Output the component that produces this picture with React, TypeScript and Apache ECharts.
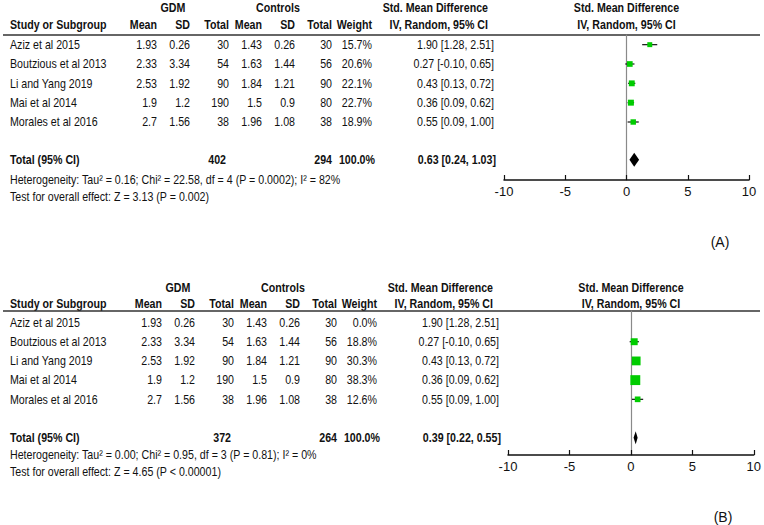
import React, { useEffect, useRef } from "react";
import * as echarts from "echarts";

// ---------- data ----------
const studies = ["Aziz et al 2015", "Boutzious et al 2013", "Li and Yang 2019", "Mai et al 2014", "Morales et al 2016"];
const gdmMean = ["1.93", "2.33", "2.53", "1.9", "2.7"];
const gdmSD = ["0.26", "3.34", "1.92", "1.2", "1.56"];
const gdmTotal = [30, 54, 90, 190, 38];
const ctrlMean = ["1.43", "1.63", "1.84", "1.5", "1.96"];
const ctrlSD = ["0.26", "1.44", "1.21", "0.9", "1.08"];
const ctrlTotal = [30, 56, 90, 80, 38];
const smdEst = [1.9, 0.27, 0.43, 0.36, 0.55];
const smdLow = [1.28, -0.1, 0.13, 0.09, 0.09];
const smdHigh = [2.51, 0.65, 0.72, 0.62, 1.0];
const weightsA = [15.7, 20.6, 22.1, 22.7, 18.9];
const weightsB = [0.0, 18.8, 30.3, 38.3, 12.6];
const panelWeights = [weightsA, weightsB];
const totalGdm = [402, 372];
const totalCtrl = [294, 264];
const totalEst = [0.63, 0.39];
const totalLow = [0.24, 0.22];
const totalHigh = [1.03, 0.55];
const heterogeneity = [
  "Heterogeneity: Tau\u00b2 = 0.16; Chi\u00b2 = 22.58, df = 4 (P = 0.0002); I\u00b2 = 82%",
  "Heterogeneity: Tau\u00b2 = 0.00; Chi\u00b2 = 0.95, df = 3 (P = 0.81); I\u00b2 = 0%",
];
const overallEffect = [
  "Test for overall effect: Z = 3.13 (P = 0.002)",
  "Test for overall effect: Z = 4.65 (P < 0.00001)",
];
const axisMin = -10;
const axisMax = 10;
const axisInterval = 5;
const panelLabels = ["(A)", "(B)"];

// ---------- layout ----------
const FF = "'Liberation Sans', Arial, sans-serif";
const FS = 13;
const SX = 0.82;
const TXT = "#111";
const GREEN = "#00cc00";

const layouts = [
  { top: 35, axisY: 180, plotLeft: 504, plotRight: 749, dx: 0, rowOff: 0.5, totalPos: 6.45, headY1: 8, headY2: 25, hetY: 180, testY: 197, labelX: 720, labelY: 242, k: 1.25, dh: 7 },
  { top: 311, axisY: 455, plotLeft: 508, plotRight: 754, dx: 5, rowOff: 0.6, totalPos: 6.6, headY1: 288, headY2: 304, hetY: 455, testY: 472, labelX: 723, labelY: 517, k: 1.6, dh: 6.5 },
];
const YMAX = 7.5;

function cols(dx: number) {
  return { name: 10, m1: 157 + dx, s1: 190 + dx, t1: 229 + dx, m2: 262 + dx, s2: 295 + dx, t2: 332 + dx, w: 372 + dx, smd: 494 + dx };
}

function tx(text: string, x: number, y: number, align: string, bold = false, size = FS, sx = SX) {
  return {
    type: "text",
    x,
    y,
    scaleX: sx,
    silent: true,
    style: {
      text,
      font: `${bold ? "bold " : ""}${size}px ${FF}`,
      fill: TXT,
      align,
      textAlign: align,
      verticalAlign: "middle",
      textVerticalAlign: "middle",
    },
  };
}

const ci = (e: number, l: number, h: number) => `${e.toFixed(2)} [${l.toFixed(2)}, ${h.toFixed(2)}]`;

function buildOption() {
  const grids: any[] = [];
  const xAxes: any[] = [];
  const yAxes: any[] = [];
  const series: any[] = [];
  const graphics: any[] = [];

  layouts.forEach((L, p) => {
    const c = cols(L.dx);
    const weights = panelWeights[p];
    grids.push({ left: L.plotLeft, width: L.plotRight - L.plotLeft, top: L.top, height: L.axisY - L.top });
    xAxes.push({
      gridIndex: p,
      type: "value",
      min: axisMin,
      max: axisMax,
      interval: axisInterval,
      position: "bottom",
      axisLine: { onZero: false, lineStyle: { color: "#111", width: 1.5 } },
      axisTick: { show: true, inside: true, length: 5, lineStyle: { color: "#111", width: 1.2 } },
      axisLabel: { color: TXT, fontSize: 13, fontFamily: FF, margin: 5 },
      splitLine: { show: false },
    });
    yAxes.push({
      gridIndex: p,
      type: "value",
      inverse: true,
      min: 0,
      max: YMAX,
      axisLine: { show: true, onZero: true, lineStyle: { color: "#8a8a8a", width: 1.2 } },
      axisTick: { show: false },
      axisLabel: { show: false },
      splitLine: { show: false },
    });

    // study rows (table text)
    series.push({
      type: "custom",
      xAxisIndex: p,
      yAxisIndex: p,
      clip: false,
      silent: true,
      encode: { x: 0, y: 1 },
      data: studies.map((_, i) => [0, i + L.rowOff, i]),
      renderItem: (params: any, api: any) => {
        const i = api.value(2);
        const y = api.coord([0, api.value(1)])[1];
        return {
          type: "group",
          children: [
            tx(studies[i], c.name, y, "left"),
            tx(gdmMean[i], c.m1, y, "right"),
            tx(gdmSD[i], c.s1, y, "right"),
            tx(String(gdmTotal[i]), c.t1, y, "right"),
            tx(ctrlMean[i], c.m2, y, "right"),
            tx(ctrlSD[i], c.s2, y, "right"),
            tx(String(ctrlTotal[i]), c.t2, y, "right"),
            tx(weights[i].toFixed(1) + "%", c.w, y, "right"),
            tx(ci(smdEst[i], smdLow[i], smdHigh[i]), c.smd, y, "right"),
          ],
        };
      },
    });

    // CI lines + weighted squares
    series.push({
      type: "custom",
      xAxisIndex: p,
      yAxisIndex: p,
      clip: false,
      silent: true,
      encode: { x: 0, y: 1 },
      data: studies.map((_, i) => [smdEst[i], i + L.rowOff, smdLow[i], smdHigh[i], weights[i]]),
      renderItem: (params: any, api: any) => {
        const w = api.value(4);
        if (!(w > 0)) return null;
        const ctr = api.coord([api.value(0), api.value(1)]);
        const lo = api.coord([api.value(2), api.value(1)]);
        const hi = api.coord([api.value(3), api.value(1)]);
        const s = L.k * Math.sqrt(w);
        return {
          type: "group",
          children: [
            { type: "line", shape: { x1: lo[0], y1: lo[1], x2: hi[0], y2: hi[1] }, style: { stroke: "#111", lineWidth: 1.2 } },
            { type: "rect", shape: { x: ctr[0] - s / 2, y: ctr[1] - s / 2, width: s, height: s }, style: { fill: GREEN } },
          ],
        };
      },
    });

    // total row + diamond
    series.push({
      type: "custom",
      xAxisIndex: p,
      yAxisIndex: p,
      clip: false,
      silent: true,
      encode: { x: 0, y: 1 },
      data: [[totalEst[p], L.totalPos, totalLow[p], totalHigh[p]]],
      renderItem: (params: any, api: any) => {
        const ctr = api.coord([api.value(0), api.value(1)]);
        const lo = api.coord([api.value(2), api.value(1)]);
        const hi = api.coord([api.value(3), api.value(1)]);
        const y = ctr[1];
        return {
          type: "group",
          children: [
            {
              type: "polygon",
              shape: { points: [[lo[0], y], [ctr[0], y - L.dh], [hi[0], y], [ctr[0], y + L.dh]] },
              style: { fill: "#000" },
            },
            tx("Total (95% CI)", c.name, y, "left", true),
            tx(String(totalGdm[p]), c.t1 - 3, y, "right", true),
            tx(String(totalCtrl[p]), c.t2, y, "right", true),
            tx("100.0%", c.w + 3, y, "right", true),
            tx(ci(totalEst[p], totalLow[p], totalHigh[p]), c.smd + 2, y, "right", true),
          ],
        };
      },
    });

    // headers
    const zeroX = L.plotLeft + ((0 - axisMin) / (axisMax - axisMin)) * (L.plotRight - L.plotLeft);
    graphics.push(
      tx("GDM", 173 + L.dx, L.headY1, "center", true),
      tx("Controls", 278 + L.dx, L.headY1, "center", true),
      tx("Study or Subgroup", c.name, L.headY2, "left", true),
      tx("Mean", c.m1, L.headY2, "right", true),
      tx("SD", c.s1, L.headY2, "right", true),
      tx("Total", c.t1, L.headY2, "right", true),
      tx("Mean", c.m2, L.headY2, "right", true),
      tx("SD", c.s2, L.headY2, "right", true),
      tx("Total", c.t2, L.headY2, "right", true),
      tx("Weight", c.w, L.headY2, "right", true),
      tx("Std. Mean Difference", c.smd - 6, L.headY1, "right", true),
      tx("IV, Random, 95% CI", c.smd - 6, L.headY2, "right", true),
      tx("Std. Mean Difference", zeroX, L.headY1, "center", true),
      tx("IV, Random, 95% CI", zeroX, L.headY2, "center", true),
      {
        type: "line",
        silent: true,
        shape: { x1: 3, y1: L.top, x2: 760, y2: L.top },
        style: { stroke: "#333", lineWidth: 1.5 },
      },
      tx(heterogeneity[p], c.name, L.hetY, "left"),
      tx(overallEffect[p], c.name, L.testY, "left"),
      tx(panelLabels[p], L.labelX, L.labelY, "center", false, 14, 1),
    );
  });

  return {
    animation: false,
    backgroundColor: "#fff",
    grid: grids,
    xAxis: xAxes,
    yAxis: yAxes,
    series,
    graphic: graphics,
  };
}

export default function App() {
  const ref = useRef<HTMLDivElement>(null);
  useEffect(() => {
    if (!ref.current) return;
    const chart = echarts.init(ref.current, undefined, { renderer: "svg" });
    chart.setOption(buildOption() as any);
    return () => chart.dispose();
  }, []);
  return <div ref={ref} style={{ position: "absolute", left: 0, top: 0, width: 764, height: 525 }} />;
}
